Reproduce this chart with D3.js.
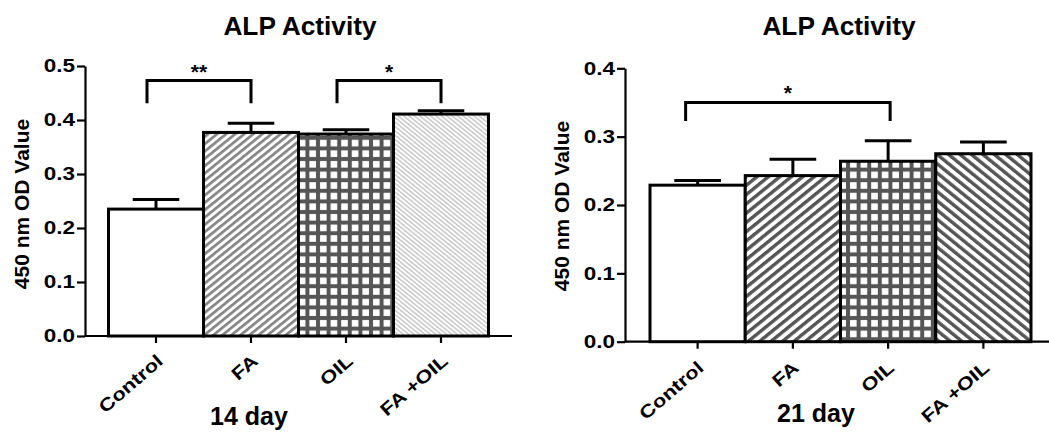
<!DOCTYPE html>
<html><head><meta charset="utf-8">
<script src="https://cdn.jsdelivr.net/npm/d3@7"></script>
<style>
html,body{margin:0;padding:0;background:#fff;}
svg text{font-family:"Liberation Sans",Arial,sans-serif;font-weight:bold;fill:#000;}
</style></head>
<body>
<svg id="chart" width="1049" height="434"></svg>
<script>
// ---- data ----
const categories = ["Control", "FA", "OIL", "FA +OIL"];
const day14Means = [0.235, 0.377, 0.374, 0.411];
const day14Errors = [0.018, 0.017, 0.008, 0.006];
const day21Means = [0.229, 0.243, 0.264, 0.275];
const day21Errors = [0.007, 0.024, 0.030, 0.017];
const day14Ticks = [0, 0.1, 0.2, 0.3, 0.4, 0.5];
const day21Ticks = [0, 0.1, 0.2, 0.3, 0.4];
const day14Brackets = [{from: "Control", to: "FA", label: "**", top: 0.473, leg: 0.431},
                       {from: "OIL", to: "FA +OIL", label: "*", top: 0.473, leg: 0.431}];
const day21Brackets = [{from: "Control", to: "OIL", label: "*", top: 0.350, leg: 0.323}];
const titleText = "ALP Activity";
const yLabelText = "450 nm OD Value";

const svg = d3.select("#chart");
const defs = svg.append("defs");

function stripePattern(id, period, thick, color, angle) {
  const p = defs.append("pattern").attr("id", id).attr("patternUnits", "userSpaceOnUse")
    .attr("width", period).attr("height", period).attr("patternTransform", `rotate(${angle})`);
  p.append("rect").attr("width", period).attr("height", period).attr("fill", "#fff");
  p.append("rect").attr("x", 0).attr("y", 0).attr("width", thick).attr("height", period).attr("fill", color);
}
function gridPattern(id, period, thick, color) {
  const p = defs.append("pattern").attr("id", id).attr("patternUnits", "userSpaceOnUse")
    .attr("width", period).attr("height", period);
  p.append("rect").attr("width", period).attr("height", period).attr("fill", color);
  p.append("rect").attr("x", thick / 2).attr("y", thick / 2).attr("width", period - thick).attr("height", period - thick).attr("fill", "#fff");
}
stripePattern("fwdL", 5.7, 2.7, "#858585", 51);
gridPattern("gridL", 10.6, 4, "#555");
stripePattern("backL", 3.4, 1.4, "#c4c4c4", -51);
stripePattern("fwdR", 7.2, 3.4, "#555", 51);
gridPattern("gridR", 10.6, 4, "#555");
stripePattern("backR", 7.2, 3.4, "#555", -51);

function stretch(sel, k) {
  sel.each(function () {
    const len = this.getComputedTextLength();
    d3.select(this).attr("textLength", len * k).attr("lengthAdjust", "spacingAndGlyphs");
  });
}

function panel(cfg) {
  const g = svg.append("g");
  const x = d3.scaleBand().domain(categories).range(cfg.xRange).padding(0);
  const y = d3.scaleLinear().domain([0, cfg.yMax]).range(cfg.yRange);
  const fills = cfg.fills;

  // y axis
  const ya = g.append("g").attr("transform", `translate(${cfg.axisX},0)`)
    .call(d3.axisLeft(y).tickValues(cfg.ticks).tickFormat(d3.format(".1f")).tickSize(8).tickSizeOuter(0).tickPadding(2));
  ya.select(".domain").attr("stroke", "#000").attr("stroke-width", 2.2);
  ya.selectAll(".tick line").attr("stroke", "#000").attr("stroke-width", 2.2);
  const yt = ya.selectAll(".tick text").style("font-size", "18px").attr("font-family", null);
  stretch(yt, 1.25);

  // x axis
  const xa = g.append("g").attr("transform", `translate(0,${y(0)})`)
    .call(d3.axisBottom(x).tickSize(7).tickSizeOuter(0));
  xa.select(".domain").remove();
  xa.selectAll(".tick line").attr("stroke", "#000").attr("stroke-width", 2.2);
  const xt = xa.selectAll(".tick text").style("font-size", "18px").attr("font-family", null)
    .attr("text-anchor", "end").attr("x", 0).attr("y", 0).attr("dy", "0.35em")
    .attr("transform", `translate(${cfg.lblDx},${cfg.lblDy}) rotate(-41)`);
  stretch(xt, 1.22);
  g.append("line").attr("x1", cfg.axisX).attr("x2", cfg.baseEnd)
    .attr("y1", y(0)).attr("y2", y(0)).attr("stroke", "#000").attr("stroke-width", 2.2);

  // bars
  g.selectAll("rect.bar").data(cfg.means).join("rect").attr("class", "bar")
    .attr("x", (d, i) => x(categories[i])).attr("width", x.bandwidth())
    .attr("y", d => y(d)).attr("height", d => y(0) - y(d))
    .attr("fill", (d, i) => fills[i]).attr("stroke", "#000").attr("stroke-width", 3);

  // error bars (upper only)
  const capHalf = x.bandwidth() * 0.245;
  cfg.means.forEach((m, i) => {
    const cx = x(categories[i]) + x.bandwidth() / 2;
    g.append("line").attr("x1", cx).attr("x2", cx).attr("y1", y(m)).attr("y2", y(m + cfg.errs[i]))
      .attr("stroke", "#000").attr("stroke-width", 3);
    g.append("line").attr("x1", cx - capHalf).attr("x2", cx + capHalf)
      .attr("y1", y(m + cfg.errs[i])).attr("y2", y(m + cfg.errs[i]))
      .attr("stroke", "#000").attr("stroke-width", 3);
  });

  // significance brackets
  cfg.brackets.forEach(b => {
    const x1 = x(b.from) + x.bandwidth() / 2 + cfg.brOff[0];
    const x2 = x(b.to) + x.bandwidth() / 2 + cfg.brOff[1];
    g.append("path").attr("d", `M${x1},${y(b.leg)}V${y(b.top)}H${x2}V${y(b.leg)}`)
      .attr("fill", "none").attr("stroke", "#000").attr("stroke-width", 3);
    g.append("text").attr("x", (x1 + x2) / 2).attr("y", y(b.top) - 2).attr("text-anchor", "middle")
      .style("font-size", "21px").text(b.label);
  });

  // titles
  const t = g.append("text").attr("x", cfg.titleX).attr("y", 35).attr("text-anchor", "middle")
    .style("font-size", "25px").text(titleText);
  stretch(t, 1.05);
  g.append("text").attr("transform", `translate(${cfg.ylabX},${cfg.ylabY}) rotate(-90)`)
    .attr("text-anchor", "middle").attr("dy", "0.35em").style("font-size", "21px").text(yLabelText);
  g.append("text").attr("x", cfg.dayX).attr("y", cfg.dayY).attr("text-anchor", "middle")
    .style("font-size", "25px").text(cfg.dayText);
}

panel({
  xRange: [108.5, 488.5], yRange: [336, 66], yMax: 0.5, ticks: day14Ticks,
  axisX: 85, baseEnd: 512, means: day14Means, errs: day14Errors,
  fills: ["#fff", "url(#fwdL)", "url(#gridL)", "url(#backL)"],
  brackets: day14Brackets, brOff: [-9, 0], lblDx: 4, lblDy: 22,
  titleX: 300, ylabX: 22, ylabY: 204, dayX: 249, dayY: 425, dayText: "14 day"
});
panel({
  xRange: [650, 1031], yRange: [341.7, 68.3], yMax: 0.4, ticks: day21Ticks,
  axisX: 625, baseEnd: 1049, means: day21Means, errs: day21Errors,
  fills: ["#fff", "url(#fwdR)", "url(#gridR)", "url(#backR)"],
  brackets: day21Brackets, brOff: [-12, 2], lblDx: 3, lblDy: 23,
  titleX: 839, ylabX: 562, ylabY: 206, dayX: 816, dayY: 422, dayText: "21 day"
});
</script>
</body></html>
